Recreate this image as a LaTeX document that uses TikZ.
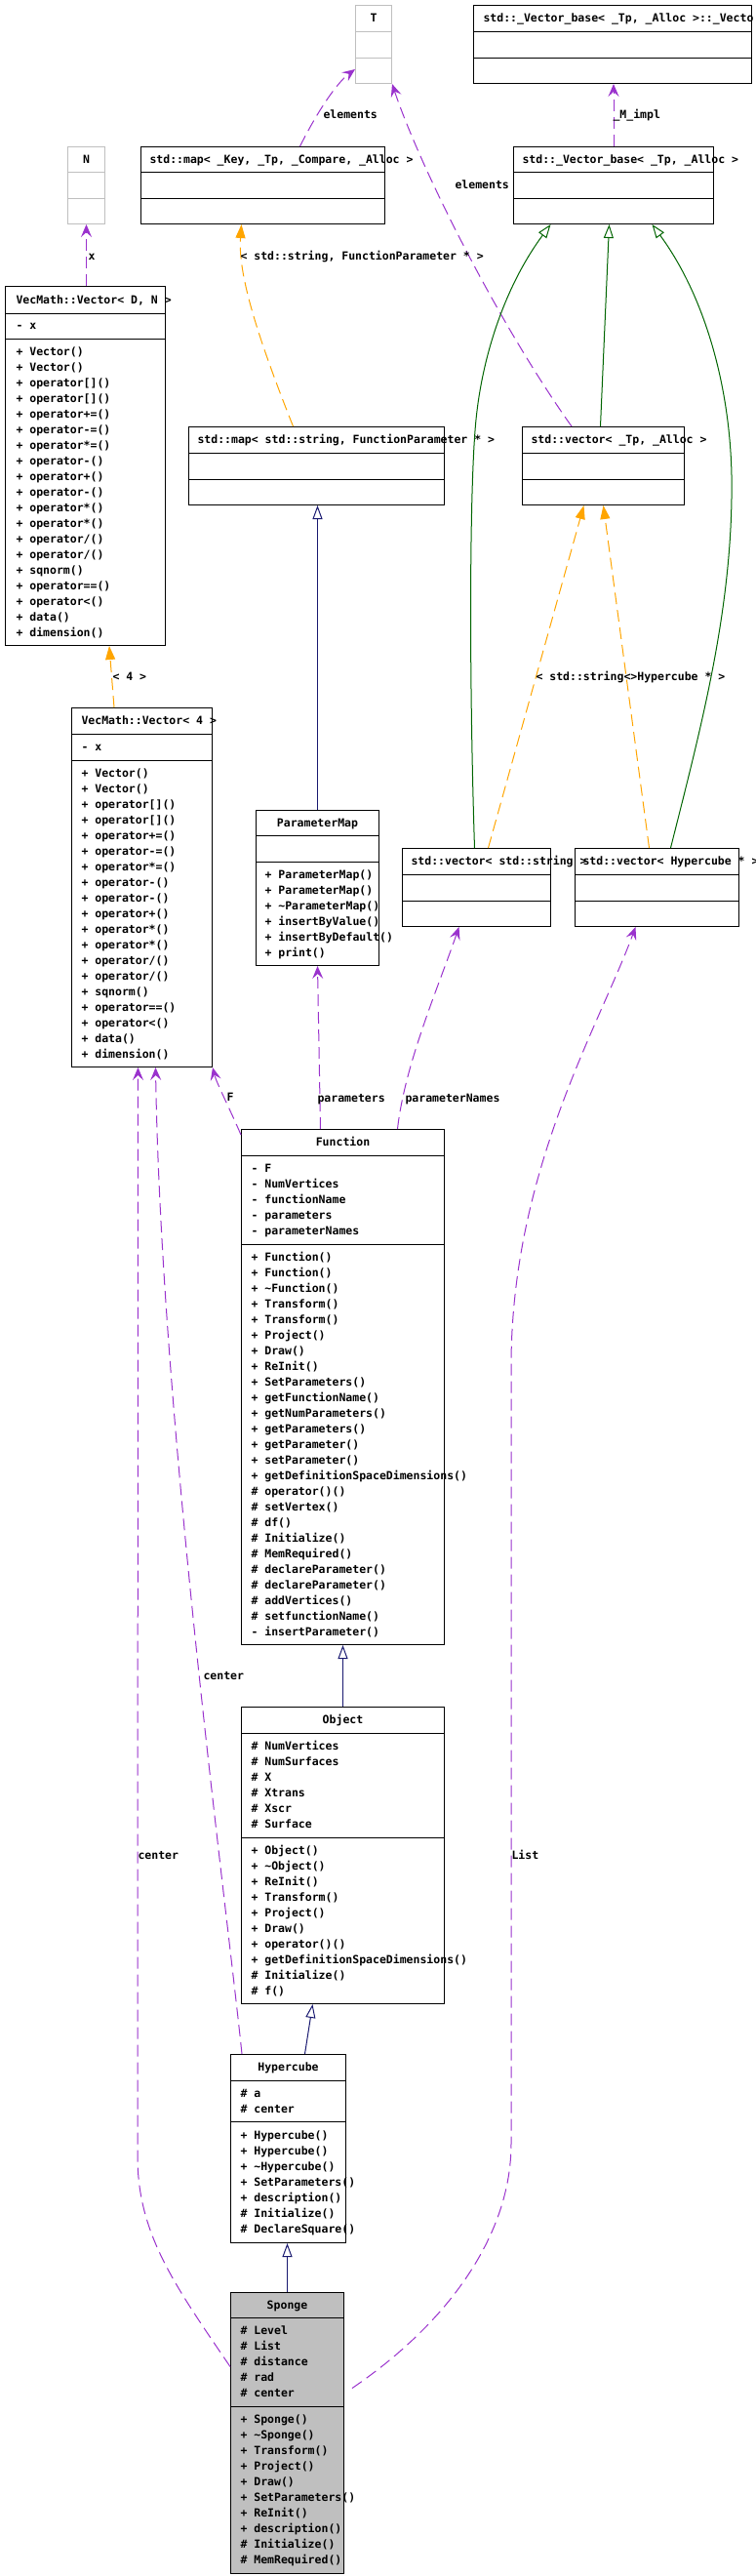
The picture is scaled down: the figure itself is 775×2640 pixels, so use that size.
\documentclass[tikz,border=0pt]{standalone}
\usepackage{xcolor}
\usepackage{fontspec}
\setmonofont{DejaVu Sans Mono}
\usepackage{tikz}
\usetikzlibrary{arrows.meta}

\definecolor{usecol}{HTML}{9A32CD}
\definecolor{tplcol}{HTML}{FFA500}
\definecolor{inhblue}{HTML}{191970}
\definecolor{inhgreen}{HTML}{006400}
\definecolor{boxgray}{HTML}{BFBFBF}

\begin{document}
\begin{tikzpicture}[x=1pt, y=-1pt, line width=1pt,
  cls/.style args = {#1,#2}{draw, anchor=north west, inner sep=0pt, minimum width=#1pt, minimum height=#2pt},
  mem/.style = {anchor=west, inner sep=0pt, text height=9pt, text depth=1pt, font=\ttfamily\bfseries\fontsize{11.5}{14}\selectfont},
  ttl/.style = {mem, anchor=center},
  usage/.style = {draw=usecol, dash pattern=on 12pt off 6pt, -{Stealth[length=13pt,width=11pt,inset=5pt]}},
  tpl/.style = {draw=tplcol, dash pattern=on 12pt off 6pt, -{Triangle[length=14pt,width=10pt]}},
  inh/.style = {draw=#1, -{Triangle[open,length=14pt,width=10pt]}},
  inh/.default = inhblue]
\useasboundingbox (0,0) rectangle (775,2640);

\node[cls={37,80}, draw=boxgray] (T) at (364,5) {};
\node[cls={285,80}] (vimpl) at (485,5) {};
\node[cls={38,79}, draw=boxgray] (N) at (69,150) {};
\node[cls={250,79}] (mapK) at (144,150) {};
\node[cls={205,79}] (vbase) at (526,150) {};
\node[cls={164,368}] (vecDN) at (5,293) {};
\node[cls={262,80}] (mapS) at (193,437) {};
\node[cls={166,80}] (vecTp) at (535,437) {};
\node[cls={144,368}] (vec4) at (73,725) {};
\node[cls={126,159}] (pmap) at (262,830) {};
\node[cls={152,80}] (vecStr) at (412,869) {};
\node[cls={168,80}] (vecHc) at (589,869) {};
\node[cls={208,528}] (fn) at (247,1157) {};
\node[cls={208,304}] (obj) at (247,1749) {};
\node[cls={118,193}] (hc) at (236,2105) {};
\node[cls={116,288}, fill=boxgray] (sp) at (236,2349) {};

\foreach \b/\ya/\yb in {vimpl/32/59, mapK/176/203, vbase/176/203, vecDN/321/347, mapS/464/491,
  vecTp/464/491, vec4/752/779, pmap/856/883, vecStr/896/923, vecHc/896/923, fn/1184/1275,
  obj/1776/1883, hc/2132/2174, sp/2375/2466}
  \draw (\b.west |- 0,\ya) -- (\b.east |- 0,\ya) (\b.west |- 0,\yb) -- (\b.east |- 0,\yb);
\draw[boxgray] (T.west |- 0,32) -- (T.east |- 0,32) (T.west |- 0,59) -- (T.east |- 0,59);
\draw[boxgray] (N.west |- 0,176) -- (N.east |- 0,176) (N.west |- 0,203) -- (N.east |- 0,203);

\node[ttl] (T-t) at (T.north |- 0,18.5) {T};
\node[mem] (vimpl-t) at (495,18.5) {std::\_Vector\_base< \_Tp, \_Alloc >::\_Vecto};
\node[ttl] (N-t) at (N.north |- 0,163) {N};
\node[mem] (mapK-t) at (153,163) {std::map< \_Key, \_Tp, \_Compare, \_Alloc >};
\node[mem] (vbase-t) at (535,163) {std::\_Vector\_base< \_Tp, \_Alloc >};
\node[mem] (vecDN-t) at (16,307) {VecMath::Vector< D, N >};
\node[mem] (mapS-t) at (202,450.5) {std::map< std::string, FunctionParameter * >};
\node[mem] (vecTp-t) at (544,450.5) {std::vector< \_Tp, \_Alloc >};
\node[mem] (vec4-t) at (83,738.5) {VecMath::Vector< 4 >};
\node[ttl] (pmap-t) at (pmap.north |- 0,843) {ParameterMap};
\node[mem] (vecStr-t) at (421,882.5) {std::vector< std::string >};
\node[mem] (vecHc-t) at (597,882.5) {std::vector< Hypercube * >};
\node[ttl] (fn-t) at (fn.north |- 0,1170.5) {Function};
\node[ttl] (obj-t) at (obj.north |- 0,1762.5) {Object};
\node[ttl] (hc-t) at (hc.north |- 0,2118.5) {Hypercube};
\node[ttl] (sp-t) at (sp.north |- 0,2362) {Sponge};

\node[mem] (vecDN-a0) at (16,333) {- x};
\foreach \m [count=\i from 0] in {+ Vector(), + Vector(), + operator[](), + operator[](), + operator+=(),
  + operator-=(), + operator*=(), + operator-(), + operator+(), + operator-(), + operator*(), + operator*(),
  + operator/(), + operator/(), + sqnorm(), + operator==(), + operator<(), + data(), + dimension()}
  \node[mem] (vecDN-m\i) at (16,360+16*\i) {\m};
\node[mem] (vec4-a0) at (83,765) {- x};
\foreach \m [count=\i from 0] in {+ Vector(), + Vector(), + operator[](), + operator[](), + operator+=(),
  + operator-=(), + operator*=(), + operator-(), + operator-(), + operator+(), + operator*(), + operator*(),
  + operator/(), + operator/(), + sqnorm(), + operator==(), + operator<(), + data(), + dimension()}
  \node[mem] (vec4-m\i) at (83,792+16*\i) {\m};
\foreach \m [count=\i from 0] in {+ ParameterMap(), + ParameterMap(), + \textasciitilde ParameterMap(),
  + insertByValue(), + insertByDefault(), + print()}
  \node[mem] (pmap-m\i) at (271,896+16*\i) {\m};
\foreach \m [count=\i from 0] in {- F, - NumVertices, - functionName, - parameters, - parameterNames}
  \node[mem] (fn-a\i) at (257,1197+16*\i) {\m};
\foreach \m [count=\i from 0] in {+ Function(), + Function(), + \textasciitilde Function(), + Transform(),
  + Transform(), + Project(), + Draw(), + ReInit(), + SetParameters(), + getFunctionName(),
  + getNumParameters(), + getParameters(), + getParameter(), + setParameter(),
  + getDefinitionSpaceDimensions(), \# operator()(), \# setVertex(), \# df(), \# Initialize(),
  \# MemRequired(), \# declareParameter(), \# declareParameter(), \# addVertices(),
  \# setfunctionName(), - insertParameter()}
  \node[mem] (fn-m\i) at (257,1288+16*\i) {\m};
\foreach \m [count=\i from 0] in {\# NumVertices, \# NumSurfaces, \# X, \# Xtrans, \# Xscr, \# Surface}
  \node[mem] (obj-a\i) at (257,1789+16*\i) {\m};
\foreach \m [count=\i from 0] in {+ Object(), + \textasciitilde Object(), + ReInit(), + Transform(),
  + Project(), + Draw(), + operator()(), + getDefinitionSpaceDimensions(), \# Initialize(), \# f()}
  \node[mem] (obj-m\i) at (257,1896+16*\i) {\m};
\foreach \m [count=\i from 0] in {\# a, \# center}
  \node[mem] (hc-a\i) at (246,2145+16*\i) {\m};
\foreach \m [count=\i from 0] in {+ Hypercube(), + Hypercube(), + \textasciitilde Hypercube(),
  + SetParameters(), + description(), \# Initialize(), \# DeclareSquare()}
  \node[mem] (hc-m\i) at (246,2188+16*\i) {\m};
\foreach \m [count=\i from 0] in {\# Level, \# List, \# distance, \# rad, \# center}
  \node[mem] (sp-a\i) at (246,2388+16*\i) {\m};
\foreach \m [count=\i from 0] in {+ Sponge(), + \textasciitilde Sponge(), + Transform(), + Project(),
  + Draw(), + SetParameters(), + ReInit(), + description(), \# Initialize(), \# MemRequired()}
  \node[mem] (sp-m\i) at (246,2479+16*\i) {\m};

\draw[usage] ([xshift=38pt]mapK.north) .. controls (325,115) and (345,85) .. ([yshift=15pt]T.south west);
\draw[usage] ([xshift=51pt]vecTp.north west) .. controls (510,330) and (430,170) .. (T.south east);
\draw[usage] (vbase.north) -- (vbase.north |- vimpl.south);
\draw[usage] (N.south |- vecDN.north) -- (N.south);
\draw[usage] ([yshift=-6pt]fn.north west) .. controls (235,1135) and (222,1110) .. (vec4.south east);
\draw[usage] ([xshift=-23pt]fn.north) -- (pmap.south);
\draw[usage] ([xshift=56pt]fn.north) .. controls (415,1090) and (450,1010) .. ([xshift=-18pt]vecStr.south);
\draw[usage] ([xshift=12pt]hc.north west) .. controls (232,1950) and (165,1450) .. ([xshift=14pt]vec4.south);
\draw[usage] ([yshift=68pt]sp.west) .. controls (180,2343) and (141,2290) .. (141,2210) -- ([xshift=-4pt]vec4.south);
\draw[usage] ([xshift=8pt,yshift=46pt]sp.east) .. controls (460,2380) and (524,2290) .. (524,2197) -- (524,1400)
  .. controls (524,1200) and (615,1050) .. ([xshift=-22pt]vecHc.south);

\draw[tpl] ([xshift=-24pt]mapS.north) .. controls (262,340) and (244,280) .. ([xshift=-22pt]mapK.south);
\draw[tpl] ([xshift=44pt]vec4.north west) -- ([xshift=107pt]vecDN.south west);
\draw[tpl] ([xshift=12pt]vecStr.north) -- ([xshift=-20pt]vecTp.south);
\draw[tpl] ([xshift=-8pt]vecHc.north) -- (vecTp.south);

\draw[inh] (pmap.north) -- (pmap.north |- mapS.south);
\draw[inh] (obj.north) -- (fn.south);
\draw[inh] ([xshift=17pt]hc.north) -- ([xshift=-31pt]obj.south);
\draw[inh] (sp.north) -- (sp.north |- hc.south);
\draw[inh=inhgreen] ([xshift=-2pt]vecStr.north) .. controls (481,700) and (481,500) .. (488,430)
  .. controls (495,360) and (520,290) .. ([xshift=-64.5pt]vbase.south);
\draw[inh=inhgreen] ([xshift=-3pt]vecTp.north) -- ([xshift=-4.5pt]vbase.south);
\draw[inh=inhgreen] ([xshift=14pt]vecHc.north) .. controls (720,740) and (752,620) .. (750,487)
  .. controls (748,390) and (720,300) .. ([xshift=39.5pt]vbase.south);

\node[mem] (l-elemT) at (331,117) {elements};
\node[mem] (l-elemV) at (466,189) {elements};
\node[mem] (l-impl) at (628,117) {\_M\_impl};
\node[mem] (l-x) at (90,262) {x};
\node[mem] (l-mapS) at (246,262) {< std::string, FunctionParameter * >};
\node[mem] (l-four) at (115,693) {< 4 >};
\node[mem] (l-str) at (549,693) {< std::string >};
\node[mem] (l-hc) at (639,693) {< Hypercube * >};
\node[mem] (l-F) at (232,1124) {F};
\node[mem] (l-par) at (325,1125) {parameters};
\node[mem] (l-parN) at (415,1125) {parameterNames};
\node[mem] (l-cenH) at (208,1717) {center};
\node[mem] (l-cenS) at (141,1901) {center};
\node[mem] (l-list) at (524,1901) {List};
\end{tikzpicture}
\end{document}
